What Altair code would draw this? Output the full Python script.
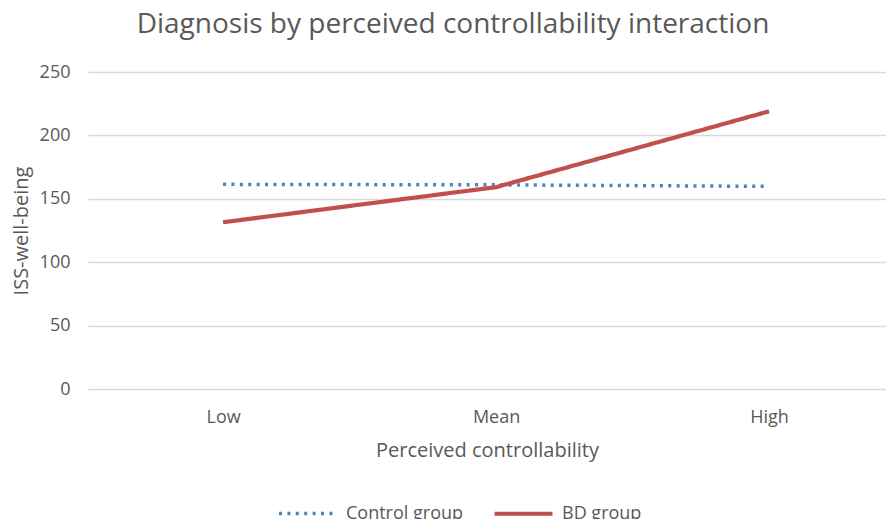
import altair as alt
import pandas as pd

categories = ["Low", "Mean", "High"]
series_names = ["Control group", "BD group"]
control_values = [161.4, 161.0, 159.8]
bd_values = [131.5, 159.2, 219.0]
y_ticks = [0, 50, 100, 150, 200, 250]

rows = []
for c, v in zip(categories, control_values):
    rows.append({"level": c, "group": series_names[0], "value": v})
for c, v in zip(categories, bd_values):
    rows.append({"level": c, "group": series_names[1], "value": v})
df = pd.DataFrame(rows)

FONT = "Open Sans"
GREY = "#595959"

chart = alt.Chart(df).mark_line(strokeCap="butt", strokeJoin="round").encode(
    x=alt.X("level:N", sort=categories,
            scale=alt.Scale(type="point", padding=0.4615, align=0.536),
            axis=alt.Axis(title="Perceived controllability", labelAngle=0,
                          ticks=False, domain=False, grid=False,
                          labelPadding=19, titlePadding=14)),
    y=alt.Y("value:Q", scale=alt.Scale(domain=[0, 250], nice=False),
            axis=alt.Axis(title="ISS-well-being", values=y_ticks, ticks=False,
                          domain=False, gridColor="#d9d9d9", gridWidth=1.3,
                          labelPadding=18, titlePadding=8)),
    color=alt.Color("group:N", sort=series_names,
                    scale=alt.Scale(domain=series_names, range=["#4F81BD", "#C0504D"]),
                    legend=alt.Legend(title=None, orient="none", direction="horizontal",
                                      legendX=189, legendY=410, symbolType="stroke",
                                      symbolSize=3364, columnPadding=22,
                                      labelFontSize=18, labelFont=FONT, labelColor=GREY,
                                      symbolStrokeWidth=4, labelOffset=7)),
    strokeDash=alt.StrokeDash("group:N", sort=series_names,
                              scale=alt.Scale(domain=series_names, range=[[3, 5.4], [1, 0]]),
                              legend=None),
    strokeWidth=alt.StrokeWidth("group:N", sort=series_names,
                                scale=alt.Scale(domain=series_names, range=[3.5, 4.2]),
                                legend=None),
    detail="group:N",
).properties(
    width=798, height=317,
    autosize=alt.AutoSizeParams(type="none"),
    padding={"left": 80, "top": 64, "right": 0, "bottom": 130},
    title=alt.TitleParams("Diagnosis by perceived controllability interaction",
                          fontSize=28, font=FONT, fontWeight="normal", color=GREY,
                          anchor="middle", frame="group", dx=-34, offset=24),
).configure_axis(
    labelFont=FONT, titleFont=FONT, labelFontSize=18, titleFontSize=20,
    labelColor=GREY, titleColor=GREY, titleFontWeight="normal",
).configure_view(stroke=None)

chart.save("out.html", embed_options={"renderer": "svg", "actions": False})
